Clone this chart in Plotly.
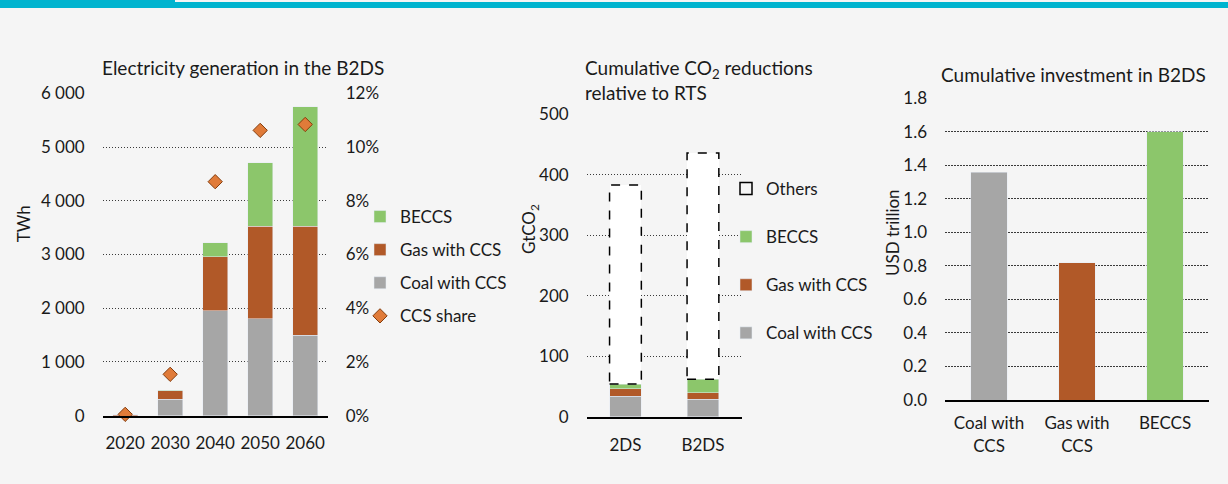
import plotly.graph_objects as go

# ---------------- data ----------------
years = ["2020", "2030", "2040", "2050", "2060"]
coal_twh = [0, 310, 1950, 1800, 1500]
gas_twh = [15, 150, 1010, 1730, 2030]
beccs_twh = [0, 15, 260, 1180, 2220]
ccs_share = [0.0005, 0.0154, 0.0871, 0.1062, 0.1084]

scenarios = ["2DS", "B2DS"]
coal_co2 = [34, 29]
gas_co2 = [12, 11]
beccs_co2 = [8, 22]
others_co2 = [329, 374]

techs = ["Coal with<br>CCS", "Gas with<br>CCS", "BECCS"]
investment = [1.36, 0.82, 1.60]

# ---------------- style ----------------
W, H = 1228, 484
BG = "#f5f5f5"
C_COAL = "#a6a6a6"
C_GAS = "#b15928"
C_BECCS = "#8cc66b"
C_SHARE = "#e07b39"
C_SHARE_LINE = "#843c0c"
FONT = "Lato"
FS = 17
GRID = dict(showgrid=True, gridcolor="#3a3a3a", griddash="1.5px,1.5px", gridwidth=1.3)


def px_x(p):
    return p / W


def px_y(p):
    return 1 - p / H


fig = go.Figure()

# ---- chart 1: electricity generation ----
w1 = 0.555
for name, vals, col, rank in [("Coal with CCS", coal_twh, C_COAL, 3),
                              ("Gas with CCS", gas_twh, C_GAS, 2),
                              ("BECCS", beccs_twh, C_BECCS, 1)]:
    fig.add_trace(go.Bar(x=years, y=vals, name=name, marker_color=col, width=w1,
                         xaxis="x", yaxis="y", legend="legend", legendrank=rank,
                         legendgroup="a" + name))
fig.add_trace(go.Scatter(x=years, y=ccs_share, name="CCS share", mode="markers",
                         marker=dict(symbol="diamond", size=11, color=C_SHARE,
                                     line=dict(color=C_SHARE_LINE, width=1)),
                         cliponaxis=False, xaxis="x", yaxis="y2",
                         legend="legend", legendrank=4, legendgroup="ashare"))

# ---- chart 2: cumulative CO2 reductions ----
w2 = 0.41
for name, vals, col, rank in [("Coal with CCS", coal_co2, C_COAL, 4),
                              ("Gas with CCS", gas_co2, C_GAS, 3),
                              ("BECCS", beccs_co2, C_BECCS, 2)]:
    fig.add_trace(go.Bar(x=scenarios, y=vals, name=name, marker_color=col, width=w2,
                         xaxis="x2", yaxis="y3", legend="legend2", legendrank=rank,
                         legendgroup="b" + name))
fig.add_trace(go.Bar(x=scenarios, y=others_co2, name="Others", marker_color="white",
                     marker_line_width=0, width=w2, showlegend=False,
                     xaxis="x2", yaxis="y3"))

# dashed outline of the "Others" segments, from the same arrays
shapes = []
for i, s in enumerate(scenarios):
    base = coal_co2[i] + gas_co2[i] + beccs_co2[i]
    shapes.append(dict(type="rect", xref="x2", yref="y3",
                       x0=i - w2 / 2, x1=i + w2 / 2, y0=base, y1=base + others_co2[i],
                       line=dict(color="black", width=1.5, dash="dash"),
                       fillcolor="rgba(0,0,0,0)", layer="above",
                       showlegend=(i == 0), name="Others", legend="legend2",
                       legendrank=1, legendgroup="bothers"))

# ---- chart 3: cumulative investment ----
fig.add_trace(go.Bar(x=techs, y=investment, marker_color=[C_COAL, C_GAS, C_BECCS],
                     width=0.41, showlegend=False, xaxis="x3", yaxis="y4"))

# top banner
shapes.append(dict(type="rect", xref="paper", yref="paper", x0=0, x1=1,
                   y0=px_y(8), y1=px_y(2), line_width=0, fillcolor="#00b4cf", layer="below"))
shapes.append(dict(type="rect", xref="paper", yref="paper", x0=0, x1=px_x(175),
                   y0=px_y(7), y1=1, line_width=0, fillcolor="#00b4cf", layer="below"))

xcommon = dict(showline=True, linecolor="black", linewidth=2, ticks="", automargin=False,
               showgrid=False, tickfont=dict(size=FS, color="#1a1a1a"), fixedrange=True)
ycommon = dict(ticks="", zeroline=False, automargin=False,
               tickfont=dict(size=FS, color="#1a1a1a"), **GRID)

fig.update_layout(
    width=W, height=H, autosize=False,
    margin=dict(l=0, r=0, t=0, b=0, pad=0, autoexpand=False),
    paper_bgcolor=BG, plot_bgcolor=BG,
    font=dict(family=FONT, size=FS, color="#1a1a1a"),
    barmode="stack",
    separators=". ",
    shapes=shapes,
    xaxis=dict(domain=[px_x(102.7), px_x(327.7)], anchor="y", ticklabelstandoff=11, **xcommon),
    yaxis=dict(domain=[px_y(415.7), px_y(93.3)], anchor="x", range=[0, 6000], dtick=1000,
               tickformat=",d", ticklabelstandoff=17, **ycommon),
    yaxis2=dict(overlaying="y", side="right", anchor="x", range=[0, 0.12], dtick=0.02,
                tickformat=".0%", showgrid=False, zeroline=False, ticks="", automargin=False,
                ticklabelstandoff=17, tickfont=dict(size=FS, color="#1a1a1a")),
    xaxis2=dict(domain=[px_x(586.7), px_x(741.7)], anchor="y3", ticklabelstandoff=12, **xcommon),
    yaxis3=dict(domain=[px_y(416.7), px_y(114.3)], anchor="x2", range=[0, 500], dtick=100,
                ticklabelstandoff=17, **ycommon),
    xaxis3=dict(domain=[px_x(945), px_x(1209)], anchor="y4", ticklabelstandoff=7, **xcommon),
    yaxis4=dict(domain=[px_y(400), px_y(98.3)], anchor="x3", range=[0, 1.8], dtick=0.2,
                tickformat=".1f", ticklabelstandoff=17, **ycommon),
    legend=dict(x=px_x(360), y=px_y(199), xanchor="left", yanchor="top",
                bgcolor="rgba(0,0,0,0)", tracegroupgap=8, font=dict(size=FS)),
    legend2=dict(x=px_x(726), y=px_y(171), xanchor="left", yanchor="top",
                 bgcolor="rgba(0,0,0,0)", tracegroupgap=23, font=dict(size=FS)),
    showlegend=True,
)

annots = [
    dict(text="Electricity generation in the B2DS", x=px_x(100), y=px_y(67),
         xanchor="left", yanchor="middle", font=dict(size=19)),
    dict(text="Cumulative CO<sub>2</sub> reductions<br>relative to RTS", x=px_x(583),
         y=px_y(80), xanchor="left", yanchor="middle", align="left", font=dict(size=19)),
    dict(text="Cumulative investment in B2DS", x=px_x(939), y=px_y(75),
         xanchor="left", yanchor="middle", font=dict(size=19)),
    dict(text="TWh", x=px_x(23.3), y=px_y(224), textangle=-90,
         xanchor="center", yanchor="middle"),
    dict(text="GtCO<sub>2</sub>", x=px_x(530), y=px_y(229), textangle=-90,
         xanchor="center", yanchor="middle"),
    dict(text="USD trillion", x=px_x(892.5), y=px_y(232.5), textangle=-90,
         xanchor="center", yanchor="middle"),
]
for a in annots:
    a.update(xref="paper", yref="paper", showarrow=False)
fig.update_layout(annotations=annots)

fig.write_html("out.html")
